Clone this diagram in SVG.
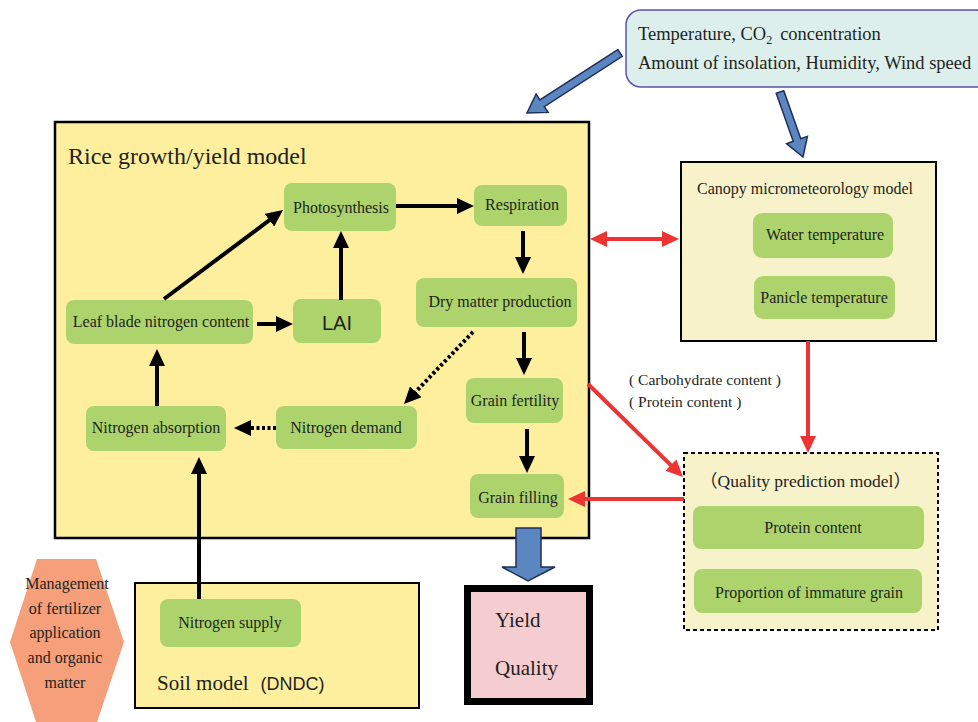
<svg xmlns="http://www.w3.org/2000/svg" width="978" height="722" viewBox="0 0 978 722">
<style>
text{font-family:"Liberation Serif","Noto Sans CJK JP",serif;fill:#231f20}
.n{fill:#add46c}
.t16{font-size:16px;text-anchor:middle}
.blk{stroke:#000;stroke-width:4;fill:none}
.dot{stroke:#000;stroke-width:4;fill:none;stroke-dasharray:3 2.5}
.red{stroke:#ee3333;stroke-width:4;fill:none}
.blue{fill:#5b86bf;stroke:#1f2f5a;stroke-width:1.5}
.sans{font-family:"Liberation Sans",Arial,sans-serif}
</style>
<defs>
<marker id="ab" markerUnits="userSpaceOnUse" viewBox="0 0 17 16" markerWidth="17" markerHeight="16" refX="5" refY="8" orient="auto"><path d="M0,0 L17,8 L0,16 z" fill="#000"/></marker>
<marker id="ar" markerUnits="userSpaceOnUse" viewBox="0 0 17 16" markerWidth="17" markerHeight="16" refX="5" refY="8" orient="auto-start-reverse"><path d="M0,0 L17,8 L0,16 z" fill="#ee3333"/></marker>
</defs>

<g id="weather">
<rect x="626" y="10" width="365" height="77" rx="15" fill="#dcefed" stroke="#5a52a8" stroke-width="1.5"/>
<text x="638" y="40" font-size="18.5">Temperature, CO<tspan font-size="12" dy="4">2</tspan><tspan dy="-4" dx="8">concentration</tspan></text>
<text x="638" y="69" font-size="18.5">Amount of insolation, Humidity, Wind speed</text>
</g>

<g id="rice-model">
<rect x="55" y="122" width="534" height="416" fill="#fdef9e" stroke="#000" stroke-width="2.5"/>
<text x="68" y="164" font-size="24">Rice growth/yield model</text>
</g>

<g id="photosynthesis"><rect class="n" x="284" y="183" width="112" height="48" rx="8"/><text class="t16" x="341" y="213">Photosynthesis</text></g>
<g id="respiration"><rect class="n" x="474" y="185" width="93" height="41" rx="8"/><text class="t16" x="522" y="210">Respiration</text></g>
<g id="leaf-blade"><rect class="n" x="66" y="300" width="187" height="44" rx="8"/><text class="t16" x="161" y="327">Leaf blade nitrogen content</text></g>
<g id="lai"><rect class="n" x="293" y="299" width="88" height="44" rx="8"/><text class="sans" x="337" y="330" font-size="20" text-anchor="middle">LAI</text></g>
<g id="dry-matter"><rect class="n" x="416" y="278" width="161" height="49" rx="8"/><text class="t16" x="500" y="307">Dry matter production</text></g>
<g id="nitrogen-absorption"><rect class="n" x="86" y="406" width="140" height="45" rx="8"/><text class="t16" x="156" y="433">Nitrogen absorption</text></g>
<g id="nitrogen-demand"><rect class="n" x="276" y="406" width="141" height="43" rx="8"/><text class="t16" x="346" y="433">Nitrogen demand</text></g>
<g id="grain-fertility"><rect class="n" x="466" y="378" width="97" height="45" rx="8"/><text class="t16" x="515" y="406">Grain fertility</text></g>
<g id="grain-filling"><rect class="n" x="470" y="474" width="94" height="44" rx="8"/><text class="t16" x="518" y="503">Grain filling</text></g>

<g id="canopy-model">
<rect x="681" y="162" width="255" height="179" fill="#f8f2cb" stroke="#000" stroke-width="2"/>
<text x="697" y="194" font-size="16">Canopy micrometeorology model</text>
</g>
<g id="water-temperature"><rect class="n" x="753" y="213" width="140" height="45" rx="9"/><text class="t16" x="825" y="240">Water temperature</text></g>
<g id="panicle-temperature"><rect class="n" x="754" y="276" width="141" height="43" rx="9"/><text class="t16" x="824" y="303">Panicle temperature</text></g>

<g id="quality-model">
<rect x="684" y="453" width="254" height="177" fill="#f8f2cb" stroke="#000" stroke-width="2" stroke-dasharray="4 3"/>
<text x="700" y="487" font-size="17.5">（Quality prediction model）</text>
</g>
<g id="protein-content"><rect class="n" x="693" y="506" width="231" height="43" rx="8"/><text class="t16" x="813" y="533">Protein content</text></g>
<g id="immature-grain"><rect class="n" x="694" y="569" width="228" height="44" rx="8"/><text class="t16" x="809" y="598">Proportion of immature grain</text></g>

<g id="soil-model">
<rect x="135" y="583" width="284" height="125" fill="#fdef9e" stroke="#000" stroke-width="2"/>
<text x="157" y="690" font-size="21">Soil model<tspan class="sans" font-size="18" dx="12">(DNDC)</tspan></text>
</g>
<g id="nitrogen-supply"><rect class="n" x="160" y="599" width="141" height="48" rx="8"/><text class="t16" x="230" y="628">Nitrogen supply</text></g>

<g id="management">
<polygon points="37,559 96,559 124,642 96,725 37,725 10,642" fill="#f5a07a"/>
<g font-size="16" text-anchor="middle">
<text x="67" y="589">Management</text>
<text x="65" y="614">of fertilizer</text>
<text x="65" y="638">application</text>
<text x="65" y="663">and organic</text>
<text x="65" y="688">matter</text>
</g>
</g>

<g id="yield-quality">
<rect x="467.5" y="588.5" width="122" height="113" fill="#f5cdd0" stroke="#000" stroke-width="7"/>
<text x="495" y="627" font-size="21">Yield</text>
<text x="495" y="675" font-size="21">Quality</text>
</g>

<g id="connectors">
<polygon class="blue" points="617.8,49.6 539.9,99.9 536.1,94 527,113 548.1,112.4 544.3,106.6 622.2,56.4"/>
<polygon class="blue" points="776.2,93.3 793.2,141.3 786.6,143.7 803,157 807.4,136.3 800.8,138.7 783.8,90.7"/>
<polygon class="blue" points="516,528 541,528 541,567 555,567 528,581 502,567 516,567"/>
<line class="blk" x1="164" y1="299" x2="273.4" y2="217.2" marker-end="url(#ab)"/>
<line class="blk" x1="341" y1="300" x2="341" y2="243" marker-end="url(#ab)"/>
<line class="blk" x1="257" y1="324" x2="281" y2="324" marker-end="url(#ab)"/>
<line class="blk" x1="396" y1="206" x2="462" y2="206" marker-end="url(#ab)"/>
<line class="blk" x1="523" y1="231" x2="523" y2="262" marker-end="url(#ab)"/>
<line class="blk" x1="524" y1="332" x2="524" y2="363" marker-end="url(#ab)"/>
<line class="blk" x1="527" y1="429" x2="527" y2="461" marker-end="url(#ab)"/>
<line class="blk" x1="157" y1="406" x2="157" y2="361" marker-end="url(#ab)"/>
<line class="blk" x1="199" y1="599" x2="199" y2="469" marker-end="url(#ab)"/>
<line class="dot" x1="473" y1="332" x2="412.3" y2="395.3" marker-end="url(#ab)"/>
<line class="dot" x1="276" y1="428" x2="246" y2="428" marker-end="url(#ab)"/>
<line class="red" x1="602" y1="239" x2="667" y2="239" marker-start="url(#ar)" marker-end="url(#ar)"/>
<line class="red" x1="808" y1="341" x2="808" y2="441" marker-end="url(#ar)"/>
<line class="red" x1="588" y1="384" x2="674.4" y2="468.6" marker-end="url(#ar)"/>
<line class="red" x1="684" y1="499" x2="580" y2="499" marker-end="url(#ar)"/>
</g>
<g id="labels" font-size="15.5" fill="#3a3a3a">
<text x="629" y="385">( Carbohydrate content )</text>
<text x="629" y="407">( Protein content )</text>
</g>
</svg>
